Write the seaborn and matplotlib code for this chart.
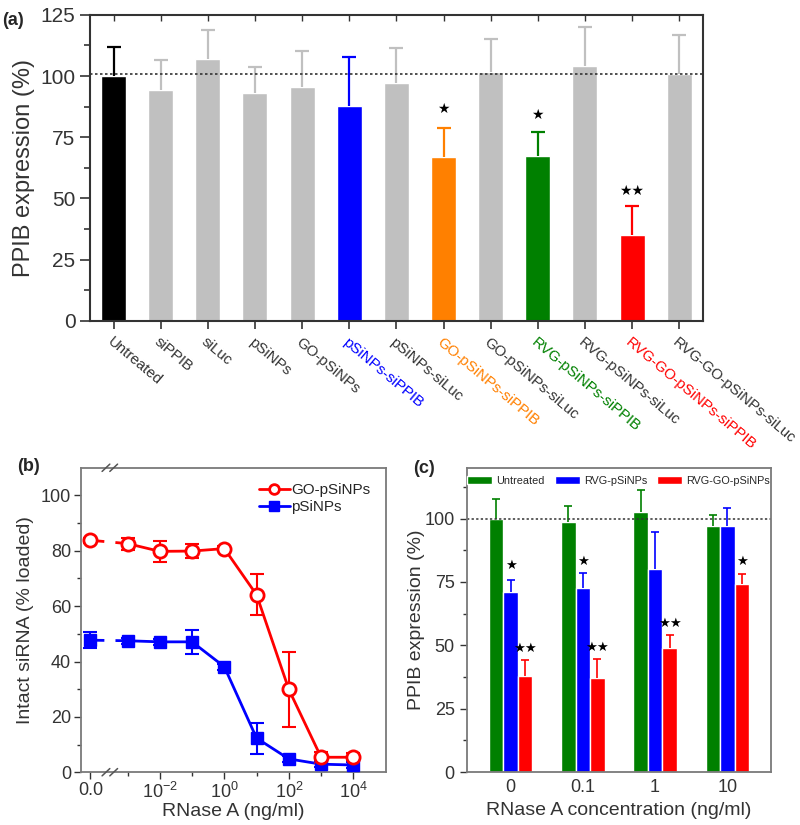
import matplotlib
matplotlib.use('Agg')
import matplotlib.pyplot as plt
import matplotlib.transforms as mtransforms
import numpy as np
import pandas as pd
import seaborn as sns

# Panel (a) data
groups_a = ['Untreated', 'siPPIB', 'siLuc', 'pSiNPs', 'GO-pSiNPs', 'pSiNPs-siPPIB',
            'pSiNPs-siLuc', 'GO-pSiNPs-siPPIB', 'GO-pSiNPs-siLuc', 'RVG-pSiNPs-siPPIB',
            'RVG-pSiNPs-siLuc', 'RVG-GO-pSiNPs-siPPIB', 'RVG-GO-pSiNPs-siLuc']
expr_a = [100, 94.5, 107, 93, 95.7, 87.8, 97, 67, 101.8, 67.5, 104, 35, 101]
err_a = [12, 12.1, 12, 10.6, 14.6, 19.8, 14.5, 11.7, 13.4, 9.6, 16.2, 11.8, 15.8]
colors_a = ['#000000', '#c0c0c0', '#c0c0c0', '#c0c0c0', '#c0c0c0', '#0000ff', '#c0c0c0',
            '#ff8000', '#c0c0c0', '#008000', '#c0c0c0', '#ff0000', '#c0c0c0']
label_colors_a = ['#333333'] * 5 + ['#0000ff', '#333333', '#ff8000', '#333333',
                                    '#008000', '#333333', '#ff0000', '#333333']
stars_a = {'GO-pSiNPs-siPPIB': ('*', 86.5), 'RVG-pSiNPs-siPPIB': ('*', 84),
           'RVG-GO-pSiNPs-siPPIB': ('**', 53)}

# Panel (b) data
conc_b = [0, 1e-3, 1e-2, 1e-1, 1e0, 1e1, 1e2, 1e3, 1e4]
go_b = [83.8, 82.6, 79.8, 79.9, 80.8, 64.1, 29.9, 5.4, 5.4]
go_err_b = [1.0, 2.2, 3.8, 2.5, 1.0, 7.4, 13.7, 2.0, 1.5]
ps_b = [47.7, 47.5, 47.1, 47.1, 38.1, 12.3, 4.8, 2.9, 2.6]
ps_err_b = [2.8, 1.0, 1.0, 4.3, 1.0, 5.6, 1.0, 1.0, 1.0]

# Panel (c) data
conc_c = ['0', '0.1', '1', '10']
untreated_c = [100, 98.6, 102.6, 97]
untreated_err_c = [7.5, 6.3, 8.8, 4.3]
rvg_c = [71.2, 72.6, 80.1, 97.2]
rvg_err_c = [4.6, 6.1, 14.6, 7.0]
rvggo_c = [37.9, 37.1, 48.9, 74.3]
rvggo_err_c = [6.2, 7.5, 5.3, 4.0]
stars_c = [(0, 1, '*', 81.2), (0, 2, '**', 48.6), (1, 1, '*', 82.8), (1, 2, '**', 49),
           (2, 2, '**', 58.6), (3, 2, '*', 82.8)]

sns.set_theme(style='white')
plt.rcParams['font.family'] = ['Liberation Sans', 'DejaVu Sans']
plt.rcParams['mathtext.fontset'] = 'custom'
plt.rcParams['mathtext.rm'] = 'Liberation Sans'

TXT = '#333333'
STAR = '\u2605'


def upper_errorbar(ax, x, y, e, color, capsize, lw):
    # only the upper half of the error bar, no cap at the bar top
    eb = ax.errorbar(x, y, yerr=[np.zeros(len(np.atleast_1d(y))), e], fmt='none',
                     ecolor=color, capsize=capsize, elinewidth=lw, capthick=lw)
    eb[1][0].set_visible(False)


fig = plt.figure(figsize=(8, 8.25), dpi=100)

# ---------------- (a) ----------------
ax = fig.add_axes([0.1125, 0.611, 0.766, 0.371])
df_a = pd.DataFrame({'group': groups_a, 'expr': expr_a})
sns.barplot(data=df_a, x='group', y='expr', hue='group', palette=colors_a,
            width=0.53, legend=False, ax=ax, saturation=1)
for i, (v, e, c) in enumerate(zip(expr_a, err_a, colors_a)):
    upper_errorbar(ax, [i], [v], [e], c, 5, 1.6)
for g, (s, y) in stars_a.items():
    ax.text(groups_a.index(g), y, s.replace('*', STAR), ha='center', va='center',
            fontsize=10, color='black')
ax.axhline(101, color=TXT, ls=(0, (1.5, 1.5)), lw=1.2)
ax.set_xlim(-0.5, 12.5)
ax.set_ylim(0, 125)
ax.set_yticks([0, 25, 50, 75, 100, 125])
ax.set_yticks(np.arange(12.5, 125, 25), minor=True)
ax.set_xticks(range(len(groups_a)))
ax.set_xticklabels(groups_a, rotation=-40, ha='left', rotation_mode='anchor', fontsize=10.8)
ax.tick_params(axis='y', which='major', direction='out', length=7, width=1.2,
               labelsize=15, left=True, colors=TXT)
ax.tick_params(axis='y', which='minor', direction='out', length=4, width=1.2, left=True,
               colors=TXT)
ax.tick_params(axis='x', direction='out', length=6, width=1.2, bottom=True,
               pad=4, colors=TXT)
for lab, c in zip(ax.get_xticklabels(), label_colors_a):
    lab.set_color(c)
top = ax.secondary_xaxis('top')
top.set_xticks(range(len(groups_a)))
top.tick_params(direction='in', length=4, width=1, labeltop=False, colors=TXT)
top.spines['top'].set_visible(False)
ax.set_xlabel('')
ax.set_ylabel('PPIB expression (%)', fontsize=17, color=TXT)
for sp in ax.spines.values():
    sp.set_color(TXT)
    sp.set_linewidth(1.5)
fig.text(0.003, 0.985, '(a)', fontsize=13, fontweight='bold', va='top')

# ---------------- (b) ----------------
ax = fig.add_axes([0.101, 0.064, 0.381, 0.369])
zero_pos = -4.15
pos_b = [zero_pos if c == 0 else np.log10(c) for c in conc_b]
df_go = pd.DataFrame({'x': pos_b[1:], 'y': go_b[1:]})
df_ps = pd.DataFrame({'x': pos_b[1:], 'y': ps_b[1:]})
sns.lineplot(data=df_go, x='x', y='y', color='#ff0000', lw=2, ax=ax)
sns.lineplot(data=df_ps, x='x', y='y', color='#0000ff', lw=2, ax=ax)
ax.plot(pos_b[:2], go_b[:2], color='#ff0000', lw=2, ls=(0, (5, 4)))
ax.plot(pos_b[:2], ps_b[:2], color='#0000ff', lw=2, ls=(0, (5, 4)))
ax.errorbar(pos_b, go_b, yerr=go_err_b, fmt='none', ecolor='#ff0000', capsize=5,
            elinewidth=1.5, capthick=1.5)
ax.errorbar(pos_b, ps_b, yerr=ps_err_b, fmt='none', ecolor='#0000ff', capsize=5,
            elinewidth=1.5, capthick=1.5)
ax.plot(pos_b, ps_b, 's', color='#0000ff', ms=9, zorder=5)
ax.plot(pos_b, go_b, 'o', mfc='white', mec='#ff0000', mew=2, ms=9.5, zorder=5)
ax.plot([], [], '-o', color='#ff0000', mfc='white', mec='#ff0000', mew=2, ms=7, lw=2,
        label='GO-pSiNPs')
ax.plot([], [], '-s', color='#0000ff', ms=7, lw=2, label='pSiNPs')
ax.legend(loc='upper right', frameon=False, fontsize=11, handlelength=2.0,
          handletextpad=0.1, labelspacing=0.2, borderaxespad=0.6)
ax.set_xlim(-4.45, 5)
ax.set_ylim(0, 110)
ax.set_xticks([zero_pos, -2, 0, 2, 4])
ax.set_xticklabels(['0.0', '10$^{-2}$', '10$^{0}$', '10$^{2}$', '10$^{4}$'])
ax.set_xticks([-3, -1, 1, 3], minor=True)
ax.set_yticks([0, 20, 40, 60, 80, 100])
ax.set_yticks(np.arange(10, 110, 20), minor=True)
ax.tick_params(axis='both', which='major', direction='out', length=5, width=1,
               labelsize=13, left=True, bottom=True, colors=TXT, pad=2)
ax.tick_params(axis='both', which='minor', direction='out', length=3, width=1,
               left=True, bottom=True, colors=TXT)
ax.set_xlabel('RNase A (ng/ml)', fontsize=14, color=TXT, labelpad=1)
ax.set_ylabel('Intact siRNA (% loaded)', fontsize=14, color=TXT, labelpad=5)
for sp in ax.spines.values():
    sp.set_color('#7a7a7a')
    sp.set_linewidth(1.3)
trans = mtransforms.blended_transform_factory(ax.transData, ax.transAxes)
for yb in (0, 1):
    for dx in (-0.12, 0.12):
        ax.plot([-3.55 + dx - 0.12, -3.55 + dx + 0.12], [yb - 0.012, yb + 0.012],
                color='#555555', lw=1.1, transform=trans, clip_on=False, zorder=6)
fig.text(0.021, 0.434, '(b)', fontsize=13, fontweight='bold', va='center')

# ---------------- (c) ----------------
ax = fig.add_axes([0.5833, 0.064, 0.380, 0.369])
df_c = pd.DataFrame({
    'conc': conc_c * 3,
    'expr': untreated_c + rvg_c + rvggo_c,
    'group': ['Untreated'] * 4 + ['RVG-pSiNPs'] * 4 + ['RVG-GO-pSiNPs'] * 4,
})
pal_c = ['#008000', '#0000ff', '#ff0000']
sns.barplot(data=df_c, x='conc', y='expr', hue='group', palette=pal_c, width=0.6,
            saturation=1, ax=ax)
offsets = [-0.2, 0, 0.2]
for k, (vals, errs) in enumerate([(untreated_c, untreated_err_c), (rvg_c, rvg_err_c),
                                  (rvggo_c, rvggo_err_c)]):
    xs = np.arange(len(conc_c)) + offsets[k]
    upper_errorbar(ax, xs, vals, errs, pal_c[k], 3, 1.2)
for gi, k, s, y in stars_c:
    ax.text(gi + offsets[k], y, s.replace('*', STAR), ha='center', va='center',
            fontsize=9.5, color='black')
ax.axhline(99.7, color=TXT, ls=(0, (1.5, 1.5)), lw=1.1)
ax.set_xlim(-0.61, 3.6)
ax.set_ylim(0, 120)
ax.set_yticks([0, 25, 50, 75, 100])
ax.set_yticks(np.arange(12.5, 120, 25), minor=True)
ax.tick_params(axis='y', which='major', direction='out', length=5, width=1,
               labelsize=13, left=True, colors=TXT)
ax.tick_params(axis='y', which='minor', direction='out', length=3, width=1, left=True,
               colors=TXT)
ax.tick_params(axis='x', labelsize=13, colors=TXT, length=0, pad=5)
ax.set_xlabel('RNase A concentration (ng/ml)', fontsize=14, color=TXT, labelpad=4)
ax.set_ylabel('PPIB expression (%)', fontsize=14, color=TXT, labelpad=0)
ax.legend(loc='upper center', ncol=3, fontsize=7.8, frameon=False,
          handlelength=2.3, handleheight=0.75, handletextpad=0.4,
          columnspacing=0.9, borderaxespad=0.35, title=None)
for sp in ax.spines.values():
    sp.set_color('#7a7a7a')
    sp.set_linewidth(1.3)
fig.text(0.516, 0.432, '(c)', fontsize=13, fontweight='bold', va='center')

fig.savefig('out.png', dpi=100)
